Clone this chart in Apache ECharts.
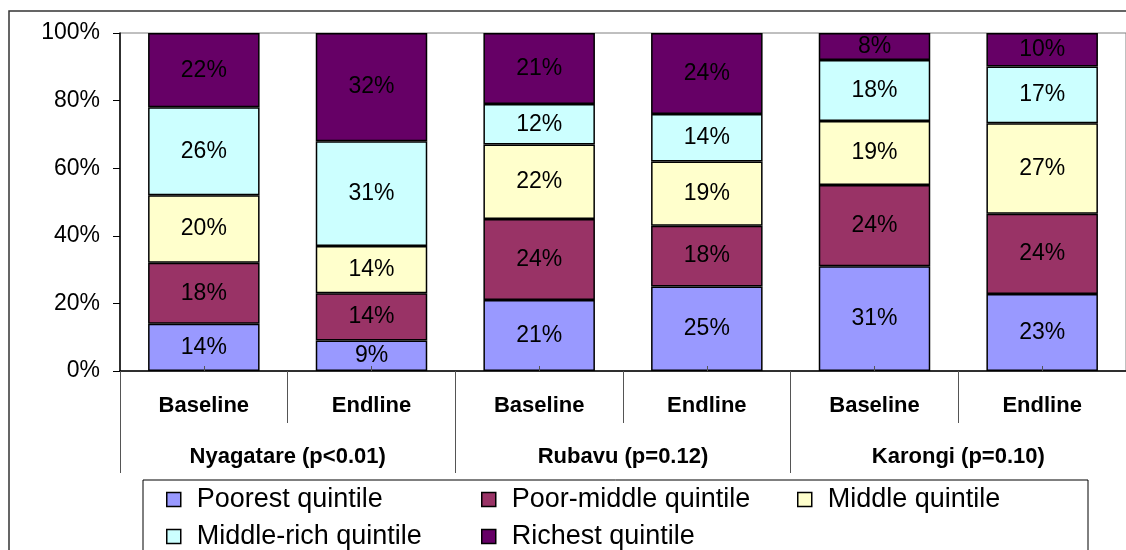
<!DOCTYPE html>
<html>
<head>
<meta charset="utf-8">
<script src="https://cdn.jsdelivr.net/npm/echarts@6/dist/echarts.min.js"></script>
<style>
  html, body { margin: 0; padding: 0; background: #fff; }
  #chart { width: 1126px; height: 550px; }
</style>
</head>
<body>
<div id="chart"></div>
<script>
// Survey rounds per district, and the district groups with their test results
const rounds = ['Baseline', 'Endline', 'Baseline', 'Endline', 'Baseline', 'Endline'];
const districts = ['Nyagatare (p<0.01)', 'Rubavu (p=0.12)', 'Karongi (p=0.10)'];
const yTicks = [0, 20, 40, 60, 80, 100];

// Share of households in each wealth quintile (%), one value per column
const poorest    = [14, 9, 21, 25, 31, 23];
const poorMiddle = [18, 14, 24, 18, 24, 24];
const middle     = [20, 14, 22, 19, 19, 27];
const middleRich = [26, 31, 12, 14, 18, 17];
const richest    = [22, 32, 21, 24, 8, 10];

const quintiles = [
  { name: 'Poorest quintile',     values: poorest,    color: '#9999FF' },
  { name: 'Poor-middle quintile', values: poorMiddle, color: '#993366' },
  { name: 'Middle quintile',      values: middle,     color: '#FFFFCC' },
  { name: 'Middle-rich quintile', values: middleRich, color: '#CCFFFF' },
  { name: 'Richest quintile',     values: richest,    color: '#660066' }
];

// 100% stacked: each column is scaled to its own total
const totals = rounds.map((_, i) => quintiles.reduce((s, q) => s + q.values[i], 0));

const font = 'Arial, "Liberation Sans", sans-serif';

const series = quintiles.map(q => ({
  name: q.name,
  type: 'bar',
  stack: 'share',
  xAxisIndex: 0,
  barWidth: '66.5%',
  data: q.values.map((v, i) => v * 100 / totals[i]),
  itemStyle: { color: q.color, borderColor: '#000', borderWidth: 1.5 },
  label: {
    show: true,
    position: 'inside',
    color: '#000',
    fontFamily: font,
    fontSize: 23,
    formatter: p => q.values[p.dataIndex] + '%'
  },
  emphasis: { disabled: true }
}));

// Legend laid out as a two-row grid: one legend component per entry
const legendSlots = [
  { left: 166, top: 486 },
  { left: 481, top: 486 },
  { left: 797, top: 486 },
  { left: 166, top: 523 },
  { left: 481, top: 523 }
];
const legends = quintiles.map((q, i) => ({
  left: legendSlots[i].left,
  top: legendSlots[i].top,
  padding: 0,
  data: [q.name],
  icon: 'rect',
  itemWidth: 14,
  itemHeight: 14,
  selectedMode: false,
  itemStyle: { borderColor: '#000', borderWidth: 1.5 },
  textStyle: { color: '#000', fontFamily: font, fontSize: 27, padding: [0, 0, 0, 11] }
}));

const chart = echarts.init(document.getElementById('chart'), null, { renderer: 'canvas' });
chart.setOption({
  animation: false,
  backgroundColor: '#fff',
  grid: {
    left: 120, right: -5, top: 33, bottom: 179,
    show: true, borderColor: '#808080', borderWidth: 1, backgroundColor: 'transparent'
  },
  graphic: [
    { type: 'rect', z: -1, shape: { x: 9, y: 11, width: 1300, height: 700 },
      style: { fill: 'none', stroke: '#333', lineWidth: 1.5 } },
    { type: 'rect', z: -1, shape: { x: 143, y: 480, width: 945, height: 200 },
      style: { fill: 'none', stroke: '#000', lineWidth: 1 } }
  ],
  legend: legends,
  xAxis: [
    {
      type: 'category', data: rounds, position: 'bottom', z: 5,
      axisLine: { show: true, lineStyle: { color: '#000', width: 1.5 } },
      axisTick: { show: true, interval: 0, length: 52, lineStyle: { color: '#555', width: 1 } },
      axisLabel: { interval: 0, margin: 24, color: '#000', fontFamily: font, fontSize: 22, fontWeight: 'bold' },
      splitLine: { show: false }
    },
    {
      type: 'category', data: districts, position: 'bottom', z: 5,
      axisLine: { show: false },
      axisTick: { show: true, interval: 0, length: 102, lineStyle: { color: '#555', width: 1 } },
      axisLabel: { interval: 0, margin: 75, color: '#000', fontFamily: font, fontSize: 22, fontWeight: 'bold' },
      splitLine: { show: false }
    },
    {
      type: 'category', data: rounds, position: 'bottom', z: 5,
      axisLine: { show: false },
      axisTick: { show: true, interval: 0, alignWithLabel: true, inside: true, length: 5, lineStyle: { color: '#555', width: 1 } },
      axisLabel: { show: false },
      splitLine: { show: false }
    }
  ],
  yAxis: {
    type: 'value', min: yTicks[0], max: yTicks[yTicks.length - 1], interval: yTicks[1] - yTicks[0], z: 5,
    axisLine: { show: true, lineStyle: { color: '#000', width: 1.5 } },
    axisTick: { show: true, length: 7, lineStyle: { color: '#000', width: 1 } },
    axisLabel: { margin: 20, color: '#000', fontFamily: font, fontSize: 23, formatter: '{value}%' },
    splitLine: { show: false }
  },
  series: series
});
</script>
</body>
</html>
